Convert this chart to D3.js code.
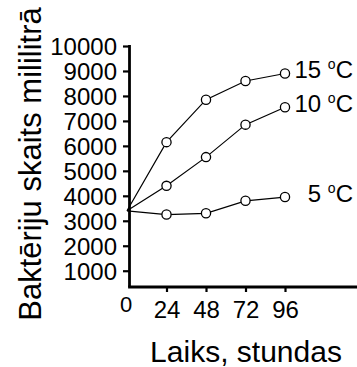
<!DOCTYPE html>
<html>
<head>
<meta charset="utf-8">
<script src="https://cdn.jsdelivr.net/npm/d3@7"></script>
<style>
  body { margin: 0; background: #fff; }
  text { font-family: "Liberation Sans", Arial, sans-serif; fill: #000; }
</style>
</head>
<body>
<script>
const w = 357; // SVG width
const h = 367; // SVG height

// data
const hours = [0, 24, 48, 72, 96];
const xTicks = [24, 48, 72, 96];
const yTicks = [1000, 2000, 3000, 4000, 5000, 6000, 7000, 8000, 9000, 10000];
const seriesNames = ["15", "10", "5"];
const temp15 = [3400, 6150, 7850, 8600, 8900];
const temp10 = [3400, 4400, 5550, 6850, 7550];
const temp5 = [3400, 3250, 3300, 3800, 3950];
const seriesValues = [temp15, temp10, temp5];

const axisX = 129.5; // y axis position
const axisY = 287;   // x axis position

const xScale = d3.scaleLinear().domain([0, 96]).range([127, 285]);
const yScale = d3.scaleLinear().domain([0, 10000]).range([295.7, 46]);

const svg = d3.select("body").append("svg")
  .attr("width", w)
  .attr("height", h);

// y axis
const yAxis = d3.axisLeft(yScale).tickValues(yTicks).tickFormat(d3.format("d"))
  .tickSize(6.5).tickPadding(6).tickSizeOuter(0);
const gy = svg.append("g").attr("transform", "translate(" + axisX + ",0)").call(yAxis);
gy.select(".domain").remove();
gy.selectAll(".tick line").attr("stroke", "#000").attr("stroke-width", 2.2);
gy.selectAll(".tick text").attr("font-size", 24).attr("font-family", "Liberation Sans, Arial, sans-serif").attr("dy", "0.36em");
svg.append("line")
  .attr("x1", axisX).attr("x2", axisX)
  .attr("y1", yScale(10000) - 1).attr("y2", axisY)
  .attr("stroke", "#000").attr("stroke-width", 2.8);

// x axis
const xAxis = d3.axisBottom(xScale).tickValues(xTicks).tickSize(5).tickPadding(9).tickSizeOuter(0);
const gx = svg.append("g").attr("transform", "translate(0," + axisY + ")").call(xAxis);
gx.select(".domain").remove();
gx.selectAll(".tick line").attr("stroke", "#000").attr("stroke-width", 2.2);
gx.selectAll(".tick text").attr("font-size", 24).attr("font-family", "Liberation Sans, Arial, sans-serif");
svg.append("line")
  .attr("x1", axisX - 1.4).attr("x2", w)
  .attr("y1", axisY).attr("y2", axisY)
  .attr("stroke", "#000").attr("stroke-width", 2.8);

// origin label
svg.append("text")
  .attr("x", xScale(0) - 1)
  .attr("y", 311.5)
  .attr("text-anchor", "middle")
  .attr("font-size", 22)
  .text("0");

// lines
const line = d3.line()
  .x((d, i) => xScale(hours[i]))
  .y(d => yScale(d));

seriesValues.forEach((vals, s) => {
  svg.append("path")
    .attr("d", line(vals))
    .attr("fill", "none")
    .attr("stroke", "#000")
    .attr("stroke-width", 1.2);

  svg.selectAll(".m" + s)
    .data(vals.slice(1))
    .enter()
    .append("circle")
    .attr("class", "m" + s)
    .attr("cx", (d, i) => xScale(hours[i + 1]))
    .attr("cy", d => yScale(d))
    .attr("r", 4.6)
    .attr("fill", "#fff")
    .attr("stroke", "#000")
    .attr("stroke-width", 1.3);

  // series label, e.g. "15 oC"
  const last = vals[vals.length - 1];
  const t = svg.append("text")
    .attr("x", 353)
    .attr("y", yScale(last) + 5)
    .attr("text-anchor", "end")
    .attr("font-size", 24);
  t.append("tspan").text(seriesNames[s] + " ");
  t.append("tspan").attr("font-size", 14).attr("dy", -9).text("o");
  t.append("tspan").attr("dy", 9).text("C");
});

// axis titles
svg.append("text")
  .attr("x", 246)
  .attr("y", 361.5)
  .attr("text-anchor", "middle")
  .attr("font-size", 30)
  .text("Laiks, stundas");

svg.append("text")
  .attr("transform", "translate(41,164) rotate(-90)")
  .attr("text-anchor", "middle")
  .attr("font-size", 31)
  .text("Baktēriju skaits mililitrā");
</script>
</body>
</html>
